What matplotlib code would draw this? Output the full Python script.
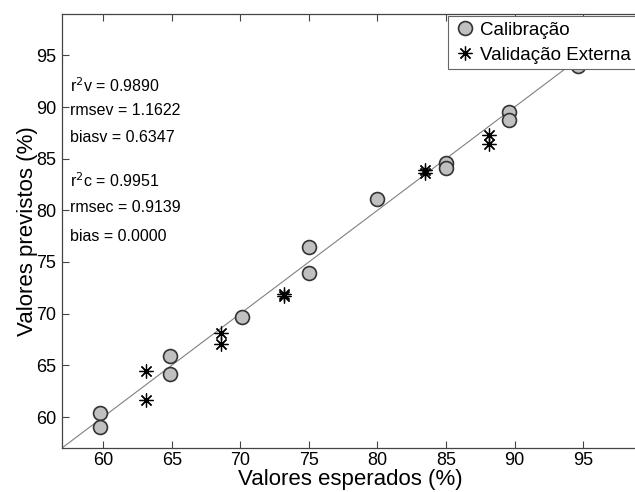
import matplotlib
matplotlib.use("Agg")
import matplotlib.pyplot as plt

plt.rcParams['font.family'] = ['Liberation Sans', 'DejaVu Sans']

# Calibration data (expected, predicted)
cal_x = [59.8, 59.8, 64.9, 64.9, 70.1, 75.0, 75.0, 80.0, 85.0, 85.0, 89.6, 89.6, 94.6]
cal_y = [60.35, 59.0, 65.9, 64.2, 69.7, 76.5, 73.9, 81.1, 84.55, 84.05, 89.55, 88.7, 93.95]

# External validation data
val_x = [63.1, 63.1, 68.6, 68.6, 73.2, 73.2, 83.5, 83.5, 88.1, 88.1]
val_y = [64.5, 61.6, 68.1, 67.1, 71.9, 71.7, 83.9, 83.6, 87.3, 86.4]

stats_text = ["r$^2$v = 0.9890", "rmsev = 1.1622", "biasv = 0.6347",
              "r$^2$c = 0.9951", "rmsec = 0.9139", "bias = 0.0000"]
stats_y = [92.1, 89.7, 87.0, 82.9, 80.3, 77.5]

xticks = [60, 65, 70, 75, 80, 85, 90, 95]
yticks = [60, 65, 70, 75, 80, 85, 90, 95]
lims = [57, 99]

fig = plt.figure(figsize=(6.35, 4.92), dpi=100)
ax = fig.add_axes([62/635, 44/492, 576/635, 434/492])

ax.plot(lims, lims, color='#808080', lw=0.8, zorder=1)
ax.plot(cal_x, cal_y, linestyle='none', marker='o', markersize=10,
        markerfacecolor='#c0c0c0', markeredgecolor='#333333', markeredgewidth=1.2,
        label='Calibração', zorder=3)
ax.plot(val_x, val_y, linestyle='none', marker=(8, 2, 0), markersize=10,
        color='black', markeredgewidth=0.9, label='Validação Externa', zorder=4)

for t, y in zip(stats_text, stats_y):
    ax.text(57.55, y, t, fontsize=11.5, va='center', ha='left')

ax.set_xlim(lims)
ax.set_ylim(lims)
ax.set_xticks(xticks)
ax.set_yticks(yticks)
ax.tick_params(direction='in', length=5, top=True, right=False, labelsize=13,
               color='#444444', pad=4)
ax.tick_params(axis='x', pad=3)
ax.spines['right'].set_visible(False)
for s in ax.spines.values():
    s.set_color('#444444')
    s.set_linewidth(0.9)

ax.set_xlabel('Valores esperados (%)', fontsize=16, labelpad=0)
ax.set_ylabel('Valores previstos (%)', fontsize=16, labelpad=-1)

leg = ax.legend(loc='upper right', bbox_to_anchor=(0.998, 0.995), fontsize=13.5,
                frameon=True, fancybox=False, edgecolor='#666666', framealpha=1,
                handletextpad=0.2, borderpad=0.3, labelspacing=0.4,
                handlelength=1.2, borderaxespad=0.0)
leg.get_frame().set_linewidth(0.8)

fig.savefig('out.png', dpi=100)
